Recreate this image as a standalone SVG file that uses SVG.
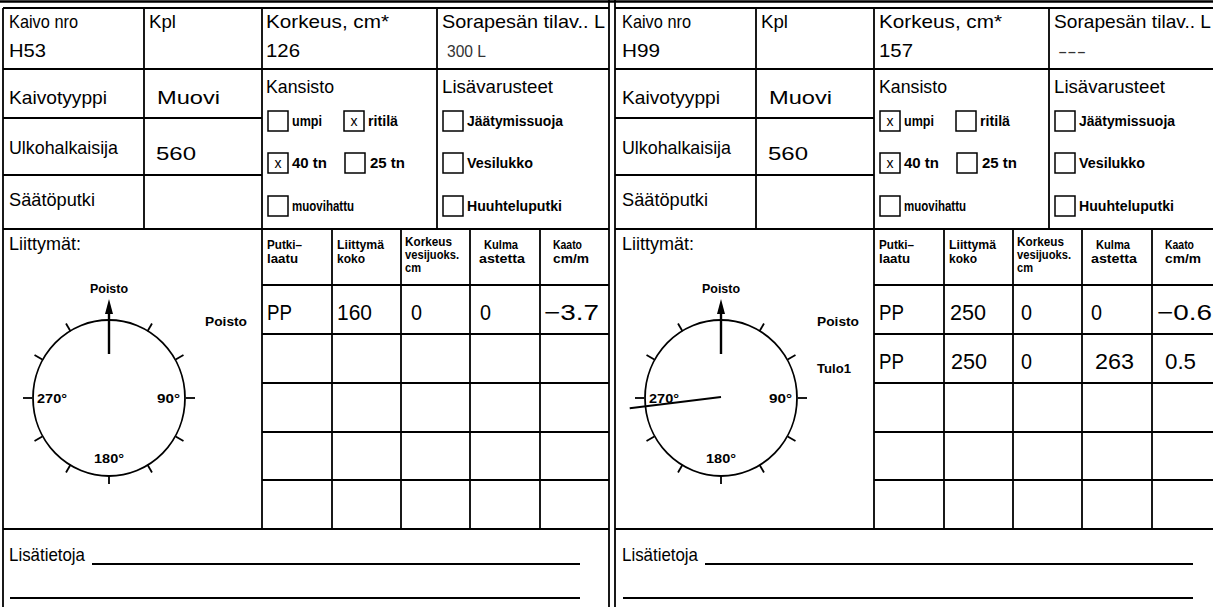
<svg xmlns="http://www.w3.org/2000/svg" width="1213" height="607" viewBox="0 0 1213 607">
<style>
.ln{stroke:#000;stroke-width:1.8;fill:none}
.thk{stroke:#000;stroke-width:2.6;fill:none}
.bx{stroke:#000;stroke-width:1.5;fill:#fff}
.t{font-family:"Liberation Sans",Arial,sans-serif;font-size:19px;fill:#000}
.d{font-family:"Liberation Sans",Arial,sans-serif;font-size:22px;fill:#000}
.s{font-family:"Liberation Sans",Arial,sans-serif;font-size:14px;font-weight:bold;fill:#000}
.c{font-family:"Liberation Sans",Arial,sans-serif;font-size:13px;font-weight:bold;fill:#000}
.h{font-family:"Liberation Sans",Arial,sans-serif;font-size:13px;font-weight:bold;fill:#000}
.th{font-family:"Liberation Sans",Arial,sans-serif;font-size:17px;fill:#333}
.x{font-family:"Liberation Sans",Arial,sans-serif;font-size:14px;fill:#000;text-anchor:middle}
.nl{stroke:#000;stroke-width:2}
</style>
<rect width="1213" height="607" fill="#fff"/>
<g id="frame">
<line x1="0" y1="1.5" x2="1213" y2="1.5" class="thk"/>
<line x1="609" y1="0" x2="609" y2="607" class="ln"/>
<line x1="615" y1="0" x2="615" y2="607" class="ln"/>
</g>

<!-- LEFT PANEL H53 -->
<g id="panel-H53">
<g id="grid-H53">
<line x1="3" y1="8" x2="609" y2="8" class="ln"/>
<line x1="3" y1="8" x2="3" y2="607" class="ln"/>
<line x1="3" y1="69" x2="609" y2="69" class="ln"/>
<line x1="3" y1="118" x2="262" y2="118" class="ln"/>
<line x1="3" y1="175" x2="262" y2="175" class="ln"/>
<line x1="3" y1="229" x2="609" y2="229" class="ln"/>
<line x1="144" y1="8" x2="144" y2="229" class="ln"/>
<line x1="262" y1="8" x2="262" y2="529" class="ln"/>
<line x1="437" y1="8" x2="437" y2="229" class="ln"/>
<line x1="332" y1="229" x2="332" y2="529" class="ln"/>
<line x1="401" y1="229" x2="401" y2="529" class="ln"/>
<line x1="470" y1="229" x2="470" y2="529" class="ln"/>
<line x1="540" y1="229" x2="540" y2="529" class="ln"/>
<line x1="262" y1="285" x2="609" y2="285" class="ln"/>
<line x1="262" y1="334" x2="609" y2="334" class="ln"/>
<line x1="262" y1="383" x2="609" y2="383" class="ln"/>
<line x1="262" y1="432" x2="609" y2="432" class="ln"/>
<line x1="262" y1="480" x2="609" y2="480" class="ln"/>
<line x1="3" y1="529" x2="609" y2="529" class="ln"/>
</g>
<g id="head-H53">
<text class="t" x="9" y="28" textLength="69" lengthAdjust="spacingAndGlyphs">Kaivo nro</text>
<text class="t" x="9" y="57" textLength="37" lengthAdjust="spacingAndGlyphs">H53</text>
<text class="t" x="149" y="28" textLength="27" lengthAdjust="spacingAndGlyphs">Kpl</text>
<text class="t" x="266" y="28" textLength="123" lengthAdjust="spacingAndGlyphs">Korkeus, cm*</text>
<text class="t" x="266" y="57" textLength="34" lengthAdjust="spacingAndGlyphs">126</text>
<text class="t" x="442" y="28" textLength="163" lengthAdjust="spacingAndGlyphs">Sorapesän tilav.. L</text>
<text class="th" x="447" y="57" textLength="39" lengthAdjust="spacingAndGlyphs">300 L</text>
<text class="t" x="9" y="104" textLength="98" lengthAdjust="spacingAndGlyphs">Kaivotyyppi</text>
<text class="t" x="157" y="104" textLength="63" lengthAdjust="spacingAndGlyphs">Muovi</text>
<text class="t" x="9" y="154" textLength="109" lengthAdjust="spacingAndGlyphs">Ulkohalkaisija</text>
<text class="t" x="156" y="160" textLength="40" lengthAdjust="spacingAndGlyphs">560</text>
<text class="t" x="9" y="206" textLength="86" lengthAdjust="spacingAndGlyphs">Säätöputki</text>
<text class="t" x="266" y="93" textLength="68" lengthAdjust="spacingAndGlyphs">Kansisto</text>
<text class="t" x="442" y="93" textLength="111" lengthAdjust="spacingAndGlyphs">Lisävarusteet</text>
</g>
<g id="checks-H53">
<rect class="bx" x="268" y="111" width="20" height="20"/>
<text class="s" x="292" y="126" textLength="30" lengthAdjust="spacingAndGlyphs">umpi</text>
<rect class="bx" x="344" y="111" width="20" height="20"/>
<text class="x" x="354" y="126">x</text>
<text class="s" x="368" y="126" textLength="30" lengthAdjust="spacingAndGlyphs">ritilä</text>
<rect class="bx" x="268" y="153" width="20" height="20"/>
<text class="x" x="278" y="168">x</text>
<text class="s" x="292" y="168" textLength="35" lengthAdjust="spacingAndGlyphs">40 tn</text>
<rect class="bx" x="345" y="153" width="20" height="20"/>
<text class="s" x="370" y="168" textLength="35" lengthAdjust="spacingAndGlyphs">25 tn</text>
<rect class="bx" x="268" y="196" width="20" height="20"/>
<text class="s" x="292" y="211" textLength="62" lengthAdjust="spacingAndGlyphs">muovihattu</text>
<rect class="bx" x="443" y="111" width="20" height="20"/>
<text class="s" x="467" y="126" textLength="96" lengthAdjust="spacingAndGlyphs">Jäätymissuoja</text>
<rect class="bx" x="443" y="153" width="20" height="20"/>
<text class="s" x="467" y="168" textLength="66" lengthAdjust="spacingAndGlyphs">Vesilukko</text>
<rect class="bx" x="443" y="196" width="20" height="20"/>
<text class="s" x="467" y="211" textLength="95" lengthAdjust="spacingAndGlyphs">Huuhteluputki</text>
</g>
<g id="table-H53">
<text class="t" x="9" y="250" textLength="72" lengthAdjust="spacingAndGlyphs">Liittymät:</text>
<text class="h" x="267" y="249" textLength="35" lengthAdjust="spacingAndGlyphs">Putki–</text>
<text class="h" x="267" y="263" textLength="31" lengthAdjust="spacingAndGlyphs">laatu</text>
<text class="h" x="337" y="249" textLength="47" lengthAdjust="spacingAndGlyphs">Liittymä</text>
<text class="h" x="337" y="263" textLength="28" lengthAdjust="spacingAndGlyphs">koko</text>
<text class="h" x="405" y="246" textLength="47" lengthAdjust="spacingAndGlyphs">Korkeus</text>
<text class="h" x="405" y="259" textLength="54" lengthAdjust="spacingAndGlyphs">vesijuoks.</text>
<text class="h" x="405" y="272" textLength="16" lengthAdjust="spacingAndGlyphs">cm</text>
<text class="h" x="484" y="249" textLength="34" lengthAdjust="spacingAndGlyphs">Kulma</text>
<text class="h" x="479" y="263" textLength="46" lengthAdjust="spacingAndGlyphs">astetta</text>
<text class="h" x="553" y="249" textLength="29" lengthAdjust="spacingAndGlyphs">Kaato</text>
<text class="h" x="553" y="263" textLength="36" lengthAdjust="spacingAndGlyphs">cm/m</text>
<text class="c" x="205" y="326" textLength="42" lengthAdjust="spacingAndGlyphs">Poisto</text>
<text class="d" x="267" y="320" textLength="25" lengthAdjust="spacingAndGlyphs">PP</text>
<text class="d" x="337" y="320" textLength="35" lengthAdjust="spacingAndGlyphs">160</text>
<text class="d" x="411" y="320" textLength="11" lengthAdjust="spacingAndGlyphs">0</text>
<text class="d" x="480" y="320" textLength="11" lengthAdjust="spacingAndGlyphs">0</text>
<text class="d" x="544" y="320" textLength="55" lengthAdjust="spacingAndGlyphs">−3.7</text>
</g>
<g id="compass-H53">
<ellipse cx="109" cy="398" rx="76" ry="78" class="ln"/>
<g transform="translate(109,398)" class="ln">
<line x1="0" y1="-77" x2="0" y2="-86" transform="rotate(30)"/>
<line x1="0" y1="-77" x2="0" y2="-86" transform="rotate(60)"/>
<line x1="0" y1="-77" x2="0" y2="-86" transform="rotate(90)"/>
<line x1="0" y1="-77" x2="0" y2="-86" transform="rotate(120)"/>
<line x1="0" y1="-77" x2="0" y2="-86" transform="rotate(150)"/>
<line x1="0" y1="-77" x2="0" y2="-86" transform="rotate(180)"/>
<line x1="0" y1="-77" x2="0" y2="-86" transform="rotate(210)"/>
<line x1="0" y1="-77" x2="0" y2="-86" transform="rotate(240)"/>
<line x1="0" y1="-77" x2="0" y2="-86" transform="rotate(270)"/>
<line x1="0" y1="-77" x2="0" y2="-86" transform="rotate(300)"/>
<line x1="0" y1="-77" x2="0" y2="-86" transform="rotate(330)"/>
</g>
<line x1="109" y1="354" x2="109" y2="312" stroke="#000" stroke-width="2.4"/>
<polygon points="109,299 105,314 113,314" fill="#000"/>
<text class="c" x="90" y="293" textLength="38" lengthAdjust="spacingAndGlyphs">Poisto</text>
<text class="c" x="37" y="403" textLength="30" lengthAdjust="spacingAndGlyphs">270°</text>
<text class="c" x="157" y="403" textLength="23" lengthAdjust="spacingAndGlyphs">90°</text>
<text class="c" x="94" y="463" textLength="30" lengthAdjust="spacingAndGlyphs">180°</text>
</g>
<g id="notes-H53">
<text class="t" x="9" y="561" textLength="76" lengthAdjust="spacingAndGlyphs">Lisätietoja</text>
<line x1="92" y1="564" x2="580" y2="564" class="nl"/>
<line x1="10" y1="598" x2="580" y2="598" class="nl"/>
</g>
</g>

<!-- RIGHT PANEL H99 -->
<g id="panel-H99">
<g id="grid-H99">
<line x1="615" y1="8" x2="1213" y2="8" class="ln"/>
<line x1="615" y1="69" x2="1213" y2="69" class="ln"/>
<line x1="615" y1="118" x2="874" y2="118" class="ln"/>
<line x1="615" y1="175" x2="874" y2="175" class="ln"/>
<line x1="615" y1="229" x2="1213" y2="229" class="ln"/>
<line x1="756" y1="8" x2="756" y2="229" class="ln"/>
<line x1="874" y1="8" x2="874" y2="529" class="ln"/>
<line x1="1049" y1="8" x2="1049" y2="229" class="ln"/>
<line x1="944" y1="229" x2="944" y2="529" class="ln"/>
<line x1="1013" y1="229" x2="1013" y2="529" class="ln"/>
<line x1="1082" y1="229" x2="1082" y2="529" class="ln"/>
<line x1="1152" y1="229" x2="1152" y2="529" class="ln"/>
<line x1="874" y1="285" x2="1213" y2="285" class="ln"/>
<line x1="874" y1="334" x2="1213" y2="334" class="ln"/>
<line x1="874" y1="383" x2="1213" y2="383" class="ln"/>
<line x1="874" y1="432" x2="1213" y2="432" class="ln"/>
<line x1="874" y1="480" x2="1213" y2="480" class="ln"/>
<line x1="615" y1="529" x2="1213" y2="529" class="ln"/>
</g>
<g id="head-H99">
<text class="t" x="622" y="28" textLength="69" lengthAdjust="spacingAndGlyphs">Kaivo nro</text>
<text class="t" x="622" y="57" textLength="38" lengthAdjust="spacingAndGlyphs">H99</text>
<text class="t" x="761" y="28" textLength="27" lengthAdjust="spacingAndGlyphs">Kpl</text>
<text class="t" x="879" y="28" textLength="123" lengthAdjust="spacingAndGlyphs">Korkeus, cm*</text>
<text class="t" x="879" y="57" textLength="34" lengthAdjust="spacingAndGlyphs">157</text>
<text class="t" x="1054" y="28" textLength="157" lengthAdjust="spacingAndGlyphs">Sorapesän tilav.. L</text>
<text class="th" x="1058" y="57" textLength="28" lengthAdjust="spacingAndGlyphs">---</text>
<text class="t" x="622" y="104" textLength="98" lengthAdjust="spacingAndGlyphs">Kaivotyyppi</text>
<text class="t" x="769" y="104" textLength="63" lengthAdjust="spacingAndGlyphs">Muovi</text>
<text class="t" x="622" y="154" textLength="109" lengthAdjust="spacingAndGlyphs">Ulkohalkaisija</text>
<text class="t" x="768" y="160" textLength="40" lengthAdjust="spacingAndGlyphs">560</text>
<text class="t" x="622" y="206" textLength="86" lengthAdjust="spacingAndGlyphs">Säätöputki</text>
<text class="t" x="879" y="93" textLength="68" lengthAdjust="spacingAndGlyphs">Kansisto</text>
<text class="t" x="1054" y="93" textLength="111" lengthAdjust="spacingAndGlyphs">Lisävarusteet</text>
</g>
<g id="checks-H99">
<rect class="bx" x="880" y="111" width="20" height="20"/>
<text class="x" x="890" y="126">x</text>
<text class="s" x="904" y="126" textLength="30" lengthAdjust="spacingAndGlyphs">umpi</text>
<rect class="bx" x="956" y="111" width="20" height="20"/>
<text class="s" x="980" y="126" textLength="30" lengthAdjust="spacingAndGlyphs">ritilä</text>
<rect class="bx" x="880" y="153" width="20" height="20"/>
<text class="x" x="890" y="168">x</text>
<text class="s" x="904" y="168" textLength="35" lengthAdjust="spacingAndGlyphs">40 tn</text>
<rect class="bx" x="957" y="153" width="20" height="20"/>
<text class="s" x="982" y="168" textLength="35" lengthAdjust="spacingAndGlyphs">25 tn</text>
<rect class="bx" x="880" y="196" width="20" height="20"/>
<text class="s" x="904" y="211" textLength="62" lengthAdjust="spacingAndGlyphs">muovihattu</text>
<rect class="bx" x="1055" y="111" width="20" height="20"/>
<text class="s" x="1079" y="126" textLength="96" lengthAdjust="spacingAndGlyphs">Jäätymissuoja</text>
<rect class="bx" x="1055" y="153" width="20" height="20"/>
<text class="s" x="1079" y="168" textLength="66" lengthAdjust="spacingAndGlyphs">Vesilukko</text>
<rect class="bx" x="1055" y="196" width="20" height="20"/>
<text class="s" x="1079" y="211" textLength="95" lengthAdjust="spacingAndGlyphs">Huuhteluputki</text>
</g>
<g id="table-H99">
<text class="t" x="622" y="250" textLength="72" lengthAdjust="spacingAndGlyphs">Liittymät:</text>
<text class="h" x="879" y="249" textLength="35" lengthAdjust="spacingAndGlyphs">Putki–</text>
<text class="h" x="879" y="263" textLength="31" lengthAdjust="spacingAndGlyphs">laatu</text>
<text class="h" x="949" y="249" textLength="47" lengthAdjust="spacingAndGlyphs">Liittymä</text>
<text class="h" x="949" y="263" textLength="28" lengthAdjust="spacingAndGlyphs">koko</text>
<text class="h" x="1017" y="246" textLength="47" lengthAdjust="spacingAndGlyphs">Korkeus</text>
<text class="h" x="1017" y="259" textLength="54" lengthAdjust="spacingAndGlyphs">vesijuoks.</text>
<text class="h" x="1017" y="272" textLength="16" lengthAdjust="spacingAndGlyphs">cm</text>
<text class="h" x="1096" y="249" textLength="34" lengthAdjust="spacingAndGlyphs">Kulma</text>
<text class="h" x="1091" y="263" textLength="46" lengthAdjust="spacingAndGlyphs">astetta</text>
<text class="h" x="1165" y="249" textLength="29" lengthAdjust="spacingAndGlyphs">Kaato</text>
<text class="h" x="1165" y="263" textLength="36" lengthAdjust="spacingAndGlyphs">cm/m</text>
<text class="c" x="817" y="326" textLength="42" lengthAdjust="spacingAndGlyphs">Poisto</text>
<text class="d" x="879" y="320" textLength="25" lengthAdjust="spacingAndGlyphs">PP</text>
<text class="d" x="950" y="320" textLength="36" lengthAdjust="spacingAndGlyphs">250</text>
<text class="d" x="1021" y="320" textLength="11" lengthAdjust="spacingAndGlyphs">0</text>
<text class="d" x="1091" y="320" textLength="11" lengthAdjust="spacingAndGlyphs">0</text>
<text class="d" x="1157" y="320" textLength="55" lengthAdjust="spacingAndGlyphs">−0.6</text>
<text class="c" x="817" y="373" textLength="34" lengthAdjust="spacingAndGlyphs">Tulo1</text>
<text class="d" x="879" y="369" textLength="25" lengthAdjust="spacingAndGlyphs">PP</text>
<text class="d" x="951" y="369" textLength="36" lengthAdjust="spacingAndGlyphs">250</text>
<text class="d" x="1021" y="369" textLength="11" lengthAdjust="spacingAndGlyphs">0</text>
<text class="d" x="1095" y="369" textLength="39" lengthAdjust="spacingAndGlyphs">263</text>
<text class="d" x="1165" y="369" textLength="31" lengthAdjust="spacingAndGlyphs">0.5</text>
</g>
<g id="compass-H99">
<ellipse cx="721" cy="398" rx="76" ry="78" class="ln"/>
<g transform="translate(721,398)" class="ln">
<line x1="0" y1="-77" x2="0" y2="-86" transform="rotate(30)"/>
<line x1="0" y1="-77" x2="0" y2="-86" transform="rotate(60)"/>
<line x1="0" y1="-77" x2="0" y2="-86" transform="rotate(90)"/>
<line x1="0" y1="-77" x2="0" y2="-86" transform="rotate(120)"/>
<line x1="0" y1="-77" x2="0" y2="-86" transform="rotate(150)"/>
<line x1="0" y1="-77" x2="0" y2="-86" transform="rotate(180)"/>
<line x1="0" y1="-77" x2="0" y2="-86" transform="rotate(210)"/>
<line x1="0" y1="-77" x2="0" y2="-86" transform="rotate(240)"/>
<line x1="0" y1="-77" x2="0" y2="-86" transform="rotate(270)"/>
<line x1="0" y1="-77" x2="0" y2="-86" transform="rotate(300)"/>
<line x1="0" y1="-77" x2="0" y2="-86" transform="rotate(330)"/>
</g>
<line x1="721" y1="354" x2="721" y2="312" stroke="#000" stroke-width="2.4"/>
<polygon points="721,299 717,314 725,314" fill="#000"/>
<line x1="721" y1="397" x2="629.7" y2="408.2" stroke="#000" stroke-width="2"/>
<text class="c" x="702" y="293" textLength="38" lengthAdjust="spacingAndGlyphs">Poisto</text>
<text class="c" x="649" y="403" textLength="30" lengthAdjust="spacingAndGlyphs">270°</text>
<text class="c" x="769" y="403" textLength="23" lengthAdjust="spacingAndGlyphs">90°</text>
<text class="c" x="706" y="463" textLength="30" lengthAdjust="spacingAndGlyphs">180°</text>
</g>
<g id="notes-H99">
<text class="t" x="622" y="561" textLength="76" lengthAdjust="spacingAndGlyphs">Lisätietoja</text>
<line x1="705" y1="564" x2="1193" y2="564" class="nl"/>
<line x1="623" y1="598" x2="1193" y2="598" class="nl"/>
</g>
</g>
</svg>
